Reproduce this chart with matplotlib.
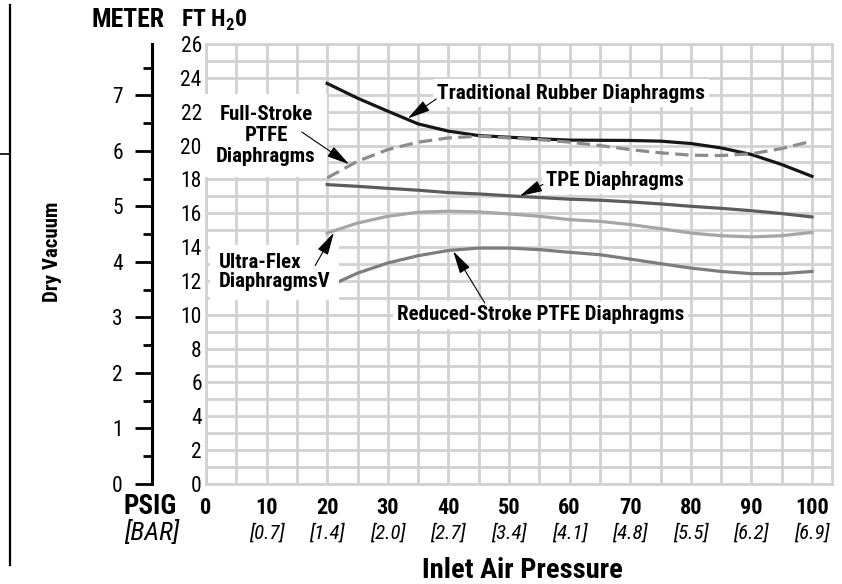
"""Dry vacuum vs inlet air pressure for five diaphragm types (ft H2O with a metre scale)."""

import matplotlib

matplotlib.use("Agg")
import matplotlib.pyplot as plt
import numpy as np
from matplotlib import font_manager
from matplotlib.lines import Line2D
from matplotlib.transforms import blended_transform_factory

# the reference uses a condensed grotesque; take the narrowest family installed
_names = {f.name for f in font_manager.fontManager.ttflist}
_condensed = {f.name for f in font_manager.fontManager.ttflist
              if str(f.stretch) in ("condensed", "semi-condensed", "extra-condensed",
                                    "ultra-condensed")}
FAMILY, FS = "Liberation Sans", 0.84
for cand in ["Liberation Sans Narrow", "Roboto Condensed", "Open Sans Condensed",
             "Noto Sans Condensed", "Arial Narrow"]:
    if cand in _names:
        FAMILY, FS = cand, 1.0
        break
else:
    for cand in ["Roboto", "Noto Sans", "Open Sans"]:
        if cand in _condensed:
            FAMILY, FS = cand, 0.95
            plt.rcParams["font.stretch"] = "condensed"
            break

plt.rcParams["font.family"] = [FAMILY, "DejaVu Sans"]
plt.rcParams["mathtext.fontset"] = "custom"
plt.rcParams["mathtext.rm"] = f"{FAMILY}:bold"
plt.rcParams["mathtext.bf"] = f"{FAMILY}:bold"

# curves every 5 psig, values in ft H2O
psig = [20, 25, 30, 35, 40, 45, 50, 55, 60, 65, 70, 75, 80, 85, 90, 95, 100]
traditional = [23.67, 22.8, 22.03, 21.28, 20.85, 20.59, 20.49, 20.4, 20.32,
               20.31, 20.3, 20.26, 20.12, 19.86, 19.47, 18.88, 18.18]
full_stroke = [18.09, 19.07, 19.76, 20.2, 20.45, 20.55, 20.45, 20.35, 20.2,
               20.0, 19.76, 19.57, 19.43, 19.41, 19.51, 19.82, 20.26]
tpe = [17.69, 17.59, 17.47, 17.36, 17.22, 17.14, 17.03, 16.93, 16.83,
       16.77, 16.67, 16.55, 16.41, 16.29, 16.15, 15.98, 15.78]
ultra_flex = [14.83, 15.42, 15.82, 16.06, 16.12, 16.08, 15.96, 15.82, 15.62,
              15.52, 15.33, 15.09, 14.83, 14.67, 14.6, 14.67, 14.87]
reduced_stroke = [11.64, 12.46, 13.06, 13.49, 13.8, 13.94, 13.94, 13.85, 13.69,
                  13.55, 13.29, 13.02, 12.76, 12.56, 12.43, 12.43, 12.56]

psig_ticks = [0, 10, 20, 30, 40, 50, 60, 70, 80, 90, 100]
bar_labels = ["", "[0.7]", "[1.4]", "[2.0]", "[2.7]", "[3.4]", "[4.1]",
              "[4.8]", "[5.5]", "[6.2]", "[6.9]"]
ft_ticks = list(range(0, 27, 2))
meter_ticks = list(range(0, 8))
FT_PER_M = 3.2808

W, H = 842, 584
GRID = "#d2d2d2"


def fx(px):
    return px / W


def fy(py):
    return 1 - py / H


fig = plt.figure(figsize=(W / 100, H / 100), dpi=100)

ax = fig.add_axes([fx(206), fy(484), (832 - 206) / W, 440 / H])
ax.set_xlim(0, 103.3)
ax.set_ylim(0, 26)
ax.set_axisbelow(True)
ax.set_xticks(psig_ticks)
ax.set_xticklabels([str(t) for t in psig_ticks], fontweight="bold", fontsize=16 * FS)
ax.set_xticks(np.arange(5, 100, 10), minor=True)
ax.set_yticks(ft_ticks)
ax.set_yticklabels([str(t) for t in ft_ticks], fontsize=15.5 * FS)
ax.set_yticks(np.arange(1, 26, 2), minor=True)
ax.grid(True, which="both", color=GRID, linewidth=2.0)
ax.tick_params(which="both", length=0)
ax.tick_params(axis="x", pad=9)
ax.tick_params(axis="y", pad=3)
for s in ax.spines.values():
    s.set_color(GRID)
    s.set_linewidth(2.0)

ax.plot(psig, traditional, color="#161616", lw=2.3)
ax.plot(psig, full_stroke, color="#8c8c8c", lw=2.3, dashes=(4.2, 2.0))
ax.plot(psig, tpe, color="#5c5c5c", lw=2.3)
ax.plot(psig, ultra_flex, color="#a6a6a6", lw=2.3)
ax.plot(psig, reduced_stroke, color="#7d7d7d", lw=2.3)

# bar equivalents under the psig ticks
tr = blended_transform_factory(ax.transData, ax.transAxes)
for t, lab in zip(psig_ticks, bar_labels):
    ax.text(t, -0.112, lab, transform=tr, ha="center", va="center",
            fontsize=15 * FS, fontstyle="italic")

# callouts
box = dict(facecolor="white", edgecolor="none", pad=3)
arrow = dict(arrowstyle="-|>,head_length=0.7,head_width=0.18", color="black",
             lw=0.8, mutation_scale=20, shrinkA=0, shrinkB=0)
LAB = 15 * FS

ax.text(38.1, 23.1, "Traditional Rubber Diaphragms", ha="left", va="center",
        fontsize=LAB * 1.03, fontweight="bold", bbox=box)
ax.annotate("", xy=(33.3, 21.6), xytext=(38.0, 22.75), arrowprops=arrow)

ax.text(9.9, 20.6, "Full-Stroke\nPTFE\nDiaphragms", ha="center", va="center",
        fontsize=LAB, fontweight="bold", linespacing=1.12,
        bbox=dict(facecolor="white", edgecolor="none", pad=8))
ax.annotate("", xy=(23.6, 18.9), xytext=(15.8, 20.8), arrowprops=arrow)

ax.text(56.1, 17.96, "TPE Diaphragms", ha="left", va="center",
        fontsize=LAB, fontweight="bold", bbox=box)
ax.annotate("", xy=(51.8, 17.02), xytext=(55.6, 17.7), arrowprops=arrow)

ax.text(2.1, 12.5, "Ultra-Flex\nDiaphragmsV", ha="left", va="center",
        fontsize=LAB, fontweight="bold", linespacing=1.0,
        bbox=dict(facecolor="white", edgecolor="none", pad=6))
ax.annotate("", xy=(21.1, 14.85), xytext=(18.0, 12.9), arrowprops=arrow)

ax.text(31.5, 9.99, "Reduced-Stroke PTFE Diaphragms", ha="left", va="center",
        fontsize=LAB, fontweight="bold", bbox=box)
ax.annotate("", xy=(40.8, 13.75), xytext=(46.0, 10.7), arrowprops=arrow)

# metre scale on its own spine
axm = fig.add_axes([fx(152), fy(484), 0.001, 440 / H])
axm.set_ylim(0, 26 / FT_PER_M)
axm.set_xticks([])
axm.set_yticks(meter_ticks)
axm.set_yticklabels([str(t) for t in meter_ticks], fontsize=15.5 * FS)
axm.set_yticks(np.arange(0.5, 8, 1.0), minor=True)
axm.tick_params(axis="y", which="major", length=12, width=2, pad=9)
axm.tick_params(axis="y", which="minor", length=6.5, width=2)
for side in ("top", "right", "bottom"):
    axm.spines[side].set_visible(False)
axm.spines["left"].set_linewidth(2.2)
axm.patch.set_visible(False)

# headers and axis titles
fig.text(fx(128), fy(27), "METER", ha="center", va="baseline",
         fontsize=18.5 * FS, fontweight="bold")
fig.text(fx(181), fy(27), r"FT H$_\mathbf{2}$0", ha="left", va="baseline",
         fontsize=17 * FS, fontweight="bold")
fig.text(fx(53), fy(252), "Dry Vacuum", rotation=90, ha="center", va="center",
         fontsize=15 * FS, fontweight="bold")
fig.text(fx(150), fy(507), "PSIG", ha="center", va="center",
         fontsize=19.5 * FS, fontweight="bold")
fig.text(fx(152), fy(533), "[BAR]", ha="center", va="center",
         fontsize=19 * FS, fontstyle="italic")
fig.text(fx(522), fy(570), "Inlet Air Pressure", ha="center", va="center",
         fontsize=20.5 * FS, fontweight="bold")

# page edge rule at far left
fig.add_artist(Line2D([fx(9.5), fx(9.5)], [fy(5), fy(565)], color="black", lw=1.6))
fig.add_artist(Line2D([fx(0), fx(9.5)], [fy(154), fy(154)], color="black", lw=1.2))

fig.savefig("out.png", dpi=100)
